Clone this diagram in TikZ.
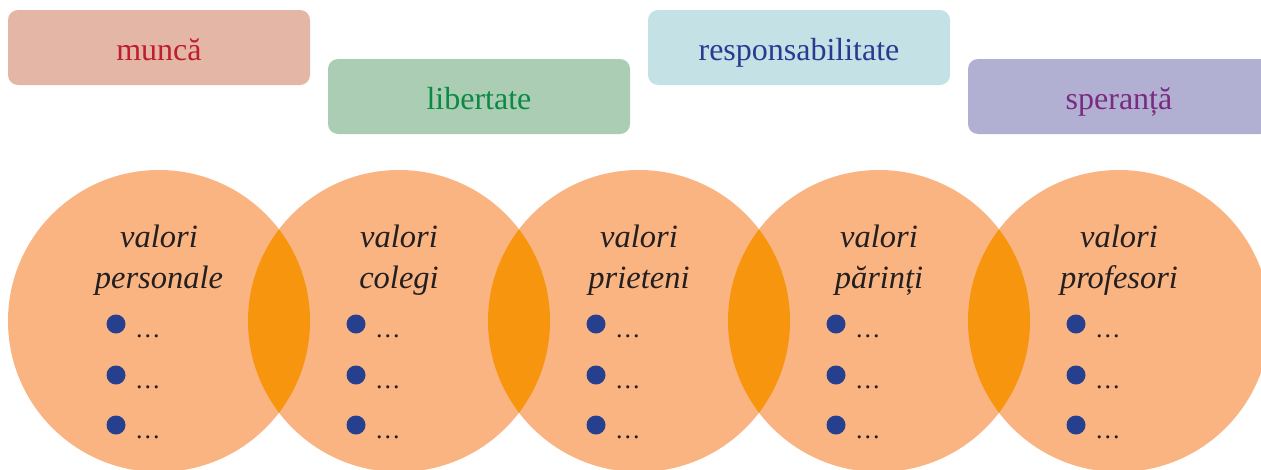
\documentclass[tikz,border=0pt]{standalone}
\usepackage{fontspec}
\setmainfont{Liberation Serif}
\definecolor{circ}{HTML}{F9B482}
\definecolor{lensc}{HTML}{F8950E}
\definecolor{bul}{HTML}{263F8F}
\definecolor{ink}{HTML}{231F20}
\definecolor{boxA}{HTML}{E4B6A6}
\definecolor{txtA}{HTML}{BE1E2D}
\definecolor{boxB}{HTML}{ABCDB3}
\definecolor{txtB}{HTML}{0B8A45}
\definecolor{boxC}{HTML}{C4E2E6}
\definecolor{txtC}{HTML}{2B3990}
\definecolor{boxD}{HTML}{B1B0D3}
\definecolor{txtD}{HTML}{7B2A82}
\begin{document}
\begin{tikzpicture}[x=1pt,y=-1pt,
  wordbox/.style={rectangle, rounded corners=10pt, minimum width=302pt, minimum height=75pt,
    inner sep=0pt, font=\fontsize{32}{38}\selectfont, text height=25pt, text depth=0pt},
  bigcirc/.style={circle, fill=circ, minimum size=302pt, inner sep=0pt},
  clabel/.style={anchor=base, font=\fontsize{32.5}{38}\selectfont\itshape, text=ink, inner sep=0pt},
  bulletdot/.style={circle, fill=bul, minimum size=19pt, inner sep=0pt},
  dotsx/.style={anchor=base west, font=\fontsize{26}{32}\selectfont, text=ink, inner sep=0pt}]
\clip (0,0) rectangle (1261,469);
\fill[white] (0,0) rectangle (1261,469);
% boxes
\node[wordbox, fill=boxA, text=txtA] (b1) at (159,47.5) {muncă};
\node[wordbox, fill=boxB, text=txtB] (b2) at (479,96.5) {libertate};
\node[wordbox, fill=boxC, text=txtC] (b3) at (799,47.5) {responsabilitate};
\node[wordbox, fill=boxD, text=txtD] (b4) at (1119,96.5) {speranță};
% circles
\foreach \i/\x in {1/159,2/399,3/639,4/879,5/1119}
  \node[bigcirc] (c\i) at (\x,321) {};
% lenses
\foreach \i/\j in {1/2,2/3,3/4,4/5}{
  \begin{scope}
    \clip (c\i.center) circle[radius=151pt];
    \fill[lensc] (c\j.center) circle[radius=151pt];
  \end{scope}
}
% labels
\foreach \i/\x/\w in {1/159/personale,2/399/colegi,3/639/prieteni,4/879/părinți,5/1119/profesori}{
  \node[clabel] (v\i) at (\x,247) {valori};
  \node[clabel] (w\i) at (\x,288) {\w};
  \foreach \j/\dy in {1/3,2/54,3/104}{
    \node[bulletdot] (p\i-\j) at (\x-43,321+\dy) {};
    \node[dotsx] (e\i-\j) at (\x-23,334+\dy) {.\kern2pt.\kern2pt.};
  }
}
\end{tikzpicture}
\end{document}
